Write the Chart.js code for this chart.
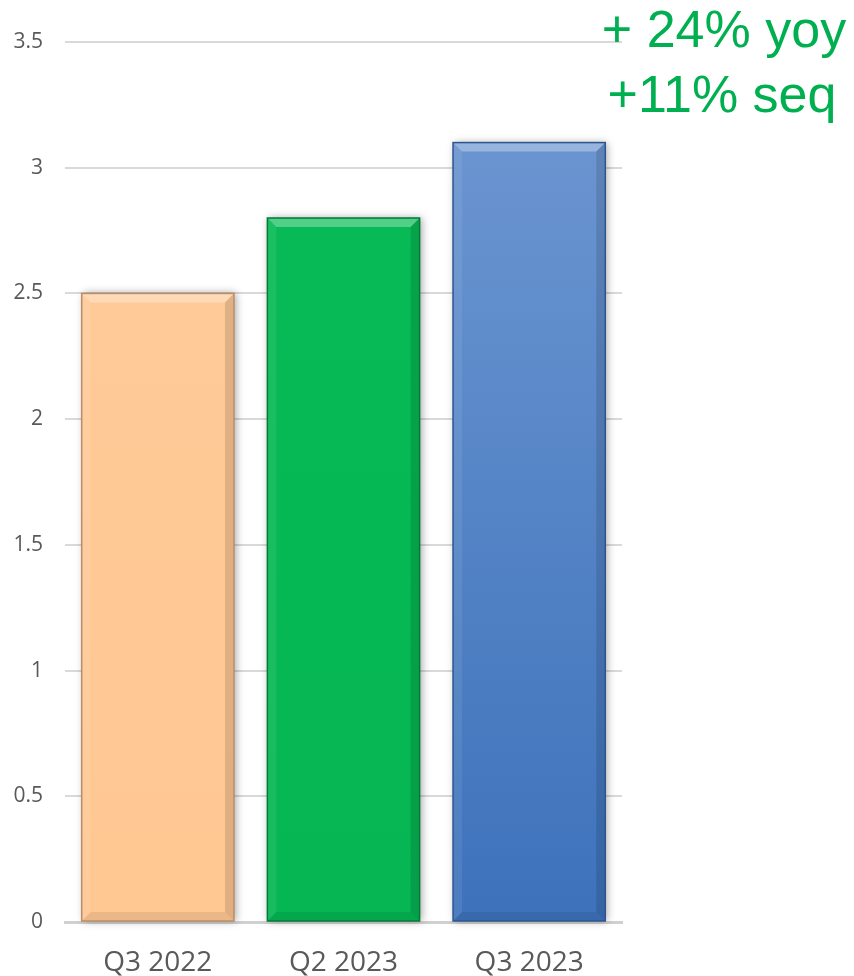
<!DOCTYPE html>
<html lang="en">
<head>
<meta charset="UTF-8">
<title>Quarterly chart</title>
<script src="https://cdn.jsdelivr.net/npm/chart.js"></script>
<style>
  html, body { margin: 0; padding: 0; background: #fff; }
  #wrap { width: 854px; height: 976px; }
</style>
</head>
<body>
<div id="wrap"><canvas id="chart" width="854" height="976"></canvas></div>
<script>
const categories = ["Q3 2022", "Q2 2023", "Q3 2023"];
const values = [2.5, 2.8, 3.1];
const yTicks = [0, 0.5, 1, 1.5, 2, 2.5, 3, 3.5];
const notes = ["+ 24% yoy", "+11% seq"];

// top / bottom colours of each bar
const barTop = ["#ffcb9a", "#08bb56", "#7099d3"];
const barBottom = ["#ffc792", "#05b652", "#3d72bb"];
const barEdge = ["#b98e66", "#037a37", "#2c5590"];

const ctx = document.getElementById("chart").getContext("2d");

function barFill(c) {
    const i = c.dataIndex;
    const area = c.chart.chartArea;
    if (!area || i === undefined) return barBottom[0];
    const g = c.chart.ctx.createLinearGradient(0, area.top, 0, area.bottom);
    g.addColorStop(0, barTop[i]);
    g.addColorStop(1, barBottom[i]);
    return g;
}

// bevel look on the bars, drawn over the library's own bar rectangles
const bevel = {
    id: "bevel",
    beforeDatasetsDraw(chart) {
        // soft shadow behind each bar
        const c = chart.ctx;
        chart.getDatasetMeta(0).data.forEach(bar => {
            const p = bar.getProps(["x", "y", "base", "width"], true);
            c.save();
            c.shadowColor = "rgba(0,0,0,0.35)";
            c.shadowBlur = 8;
            c.shadowOffsetX = 2;
            c.fillStyle = "#ffffff";
            c.fillRect(p.x - p.width / 2, p.y, p.width, p.base - p.y);
            c.restore();
        });
    },
    afterDatasetsDraw(chart) {
        const c = chart.ctx;
        const meta = chart.getDatasetMeta(0);
        const b = 9;
        meta.data.forEach((bar, i) => {
            const p = bar.getProps(["x", "y", "base", "width"], true);
            const l = p.x - p.width / 2, r = p.x + p.width / 2, t = p.y, btm = p.base;
            c.save();
            // top face
            c.fillStyle = "rgba(255,255,255,0.30)";
            c.beginPath();
            c.moveTo(l, t); c.lineTo(r, t); c.lineTo(r - b, t + b); c.lineTo(l + b, t + b); c.closePath(); c.fill();
            // left face
            c.fillStyle = "rgba(255,255,255,0.08)";
            c.beginPath();
            c.moveTo(l, t); c.lineTo(l + b, t + b); c.lineTo(l + b, btm - b); c.lineTo(l, btm); c.closePath(); c.fill();
            // right face
            c.fillStyle = "rgba(0,0,0,0.12)";
            c.beginPath();
            c.moveTo(r, t); c.lineTo(r - b, t + b); c.lineTo(r - b, btm - b); c.lineTo(r, btm); c.closePath(); c.fill();
            // bottom face
            c.fillStyle = "rgba(0,0,0,0.08)";
            c.beginPath();
            c.moveTo(l, btm); c.lineTo(l + b, btm - b); c.lineTo(r - b, btm - b); c.lineTo(r, btm); c.closePath(); c.fill();
            // outline
            c.strokeStyle = barEdge[i];
            c.lineWidth = 1.5;
            c.strokeRect(l, t, r - l, btm - t);
            c.restore();
        });
    }
};

// growth notes in the upper right corner
const growthNotes = {
    id: "growthNotes",
    afterDraw(chart) {
        const c = chart.ctx;
        c.save();
        c.fillStyle = "#00b050";
        c.font = "52px 'Liberation Sans', Arial, sans-serif";
        c.textAlign = "center";
        c.textBaseline = "alphabetic";
        c.fillText(notes[0], 724, 47);
        c.fillText(notes[1], 722, 112);
        c.restore();
    }
};

new Chart(ctx, {
    type: "bar",
    data: {
        labels: categories,
        datasets: [{
            data: values,
            backgroundColor: barFill,
            borderWidth: 0,
            barPercentage: 0.82,
            categoryPercentage: 1.0
        }]
    },
    options: {
        responsive: false,
        animation: false,
        layout: { padding: { top: 42, right: 232, bottom: 0, left: 0 } },
        plugins: {
            legend: { display: false },
            tooltip: { enabled: false }
        },
        scales: {
            x: {
                grid: { display: false, drawTicks: false },
                border: { display: true, color: "#d0d0d0", width: 3 },
                afterFit(axis) { axis.height = 54; },
                ticks: {
                    color: "#595959",
                    font: { family: "'Open Sans', sans-serif", size: 28 },
                    padding: 24
                }
            },
            y: {
                min: 0,
                max: 3.5,
                afterBuildTicks(axis) {
                    axis.ticks = yTicks.map(v => ({ value: v }));
                },
                afterFit(axis) { axis.width = 65; },
                grid: { color: "#d9d9d9", lineWidth: 2, drawTicks: false },
                border: { display: false },
                ticks: {
                    color: "#595959",
                    font: { family: "'Open Sans', sans-serif", size: 21 },
                    padding: 22,
                    callback: v => String(v)
                }
            }
        }
    },
    plugins: [bevel, growthNotes]
});
</script>
</body>
</html>
